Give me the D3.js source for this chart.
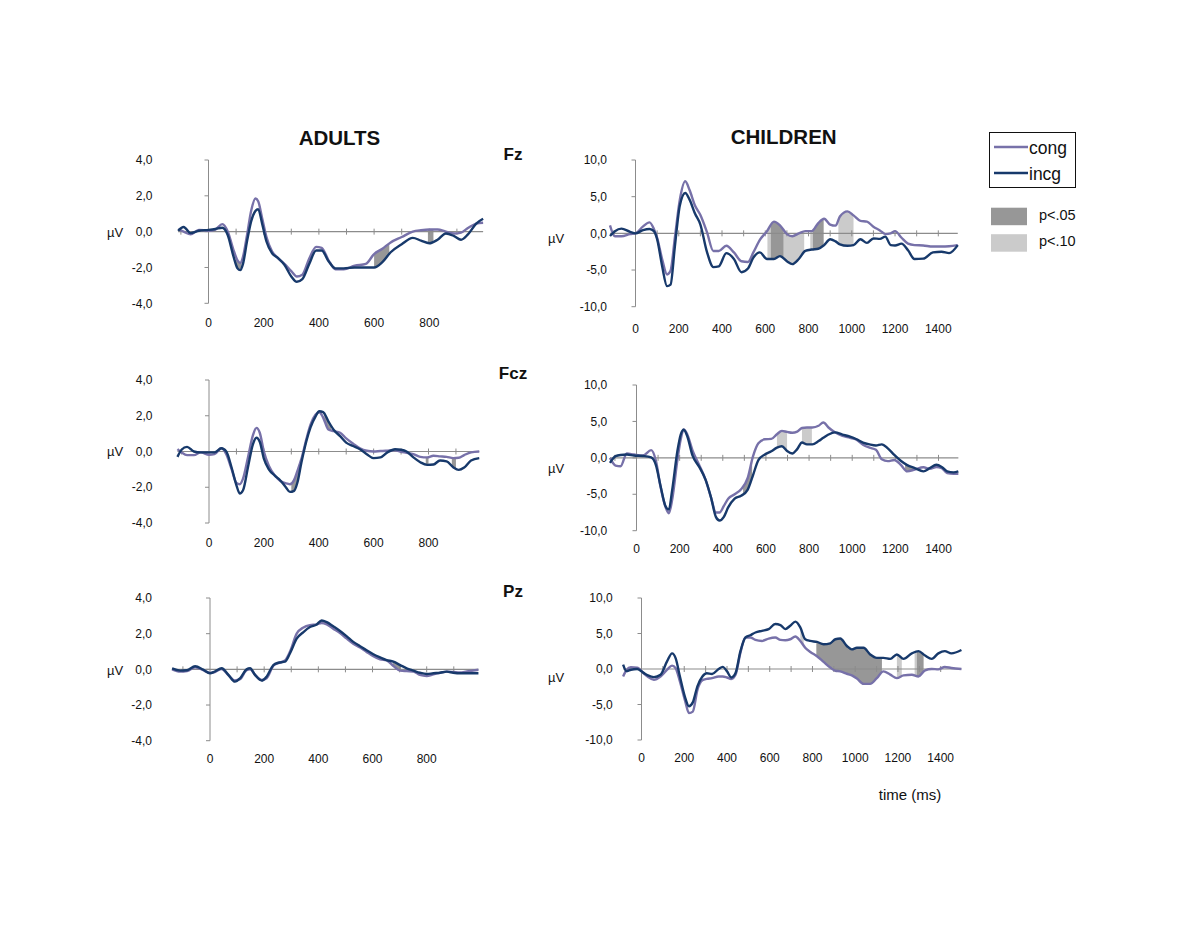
<!DOCTYPE html>
<html><head><meta charset="utf-8">
<script src="https://cdn.jsdelivr.net/npm/d3@7"></script>
<style>body{margin:0;background:#fff}svg{display:block}text{font-family:"Liberation Sans",Arial,sans-serif;fill:#111}</style>
</head><body><svg id="c" width="1200" height="927"></svg>
<script>
// ---------- DATA ----------
const seriesNames = ["cong", "incg"];
const sigNames = ["p<.05", "p<.10"];
const adultYTicks = [4, 2, 0, -2, -4];
const childYTicks = [10, 5, 0, -5, -10];
const adultXLabels = [0, 200, 400, 600, 800];
const childXLabels = [0, 200, 400, 600, 800, 1000, 1200, 1400];

// Adults Fz
const adFzT = [-110,-90,-65,-35,0,25,50,70,90,105,115,125,140,155,170,180,195,210,230,250,275,300,320,340,365,390,410,435,460,490,530,570,600,630,660,700,740,770,800,830,860,890,915,940,970,995];
const adFzIncg = [0.05,0.26,-0.08,0.05,0.1,0.15,0.22,-0.2,-1.35,-2.05,-2.15,-1.8,-0.5,0.6,1.15,1.25,0.4,-0.55,-1.2,-1.45,-1.85,-2.5,-2.8,-2.65,-1.8,-1.05,-1.05,-1.65,-2.05,-2.05,-2.0,-2.0,-2.0,-1.7,-1.15,-0.7,-0.35,-0.5,-0.65,-0.45,-0.1,-0.25,-0.45,-0.15,0.45,0.72];
const adFzCong = [0.13,0.0,-0.15,0.1,0.05,0.12,0.42,0.0,-1.0,-1.6,-1.75,-1.4,-0.15,1.2,1.85,1.7,0.7,-0.3,-1.1,-1.45,-1.8,-2.2,-2.5,-2.4,-1.5,-0.85,-0.9,-1.6,-2.1,-2.1,-1.9,-1.8,-1.25,-0.95,-0.6,-0.3,0.0,0.08,0.12,0.12,0.0,-0.1,-0.05,0.2,0.45,0.5];
const adFzSig05 = [[100,120],[600,655],[795,815]];
const adFzSig10 = [];

// Adults Fcz
const adFczT = [-115,-100,-80,-55,-30,0,20,45,63,82,100,112,124,142,160,173,185,200,218,240,260,280,295,310,322,337,355,370,388,402,416,435,455,478,500,525,550,575,600,625,650,678,700,720,745,770,795,818,842,866,890,910,930,955,985];
const adFczIncg = [-0.3,0.1,0.26,0.0,-0.05,-0.05,-0.05,0.18,0.0,-0.88,-1.89,-2.35,-2.17,-0.88,0.4,0.77,0.55,-0.4,-1.0,-1.35,-1.62,-2.0,-2.26,-2.2,-1.75,-0.6,0.59,1.35,1.95,2.25,2.2,1.69,1.2,0.86,0.5,0.31,0.13,-0.15,-0.37,-0.33,-0.05,0.13,0.1,0.0,-0.33,-0.6,-0.75,-0.73,-0.5,-0.55,-0.88,-1.03,-0.9,-0.5,-0.37];
const adFczCong = [0.13,-0.05,-0.2,-0.2,-0.05,-0.18,-0.15,0.18,-0.15,-0.97,-1.76,-1.83,-1.52,-0.33,0.9,1.32,1.05,0.0,-0.8,-1.35,-1.65,-1.78,-1.83,-1.6,-1.1,-0.4,0.7,1.5,2.05,2.2,1.9,1.23,1.14,1.05,0.73,0.44,0.18,0.04,0.0,0.03,0.05,0.07,-0.02,-0.07,-0.15,-0.3,-0.33,-0.24,-0.27,-0.3,-0.37,-0.35,-0.2,-0.05,0.0];
const adFczSig05 = [[300,345],[420,445],[790,800],[885,900]];
const adFczSig10 = [];

// Adults Pz
const adPzT = [-140,-110,-85,-55,-25,0,18,43,68,92,111,135,148,166,191,209,234,252,277,295,320,345,369,394,412,431,455,480,505,529,554,578,603,628,652,677,702,726,751,775,800,825,849,874,898,923,948,991];
const adPzIncg = [0.05,-0.07,-0.05,0.17,-0.02,-0.22,-0.12,0.06,-0.31,-0.69,-0.5,0.0,0.06,-0.31,-0.63,-0.41,0.24,0.37,0.43,0.89,1.72,2.09,2.37,2.52,2.74,2.65,2.41,2.15,1.85,1.54,1.3,1.07,0.85,0.67,0.52,0.43,0.24,0.06,-0.07,-0.19,-0.26,-0.22,-0.19,-0.13,-0.19,-0.22,-0.22,-0.22];
const adPzCong = [0.0,-0.13,-0.1,0.12,-0.05,-0.2,-0.15,0.02,-0.33,-0.62,-0.55,-0.05,0.0,-0.3,-0.6,-0.5,0.2,0.35,0.5,0.98,2.0,2.35,2.48,2.52,2.6,2.52,2.28,2.04,1.72,1.44,1.22,0.98,0.74,0.56,0.5,0.19,-0.07,-0.1,-0.12,-0.31,-0.37,-0.28,-0.2,-0.13,-0.15,-0.18,-0.12,-0.02];
const adPzSig05 = [[410,440],[675,705]];
const adPzSig10 = [];

// Children Fz
const chFzT = [-118,-95,-65,-25,0,35,65,85,100,123,146,162,182,205,230,250,275,300,330,360,385,420,455,490,520,545,575,608,640,668,700,725,755,785,815,845,872,900,925,945,980,1008,1040,1070,1100,1130,1155,1180,1200,1230,1260,1290,1330,1375,1415,1450,1490];
const chFzIncg = [-0.36,0.3,0.64,0.2,0,0.45,0.6,0.3,-0.8,-4.45,-7.2,-7.0,-1.8,3.8,5.5,4.6,2.7,1.2,-2.5,-4.6,-4.5,-2.7,-3.5,-5.3,-4.8,-3.3,-2.6,-3.5,-3.5,-3.1,-3.8,-4.2,-3.5,-2.4,-2.2,-2.1,-1.6,-0.8,-1.1,-1.5,-1.7,-1.6,-0.8,-1.3,-0.7,-0.75,-0.45,-1.6,-1.65,-1.4,-2.3,-3.5,-3.45,-2.6,-2.5,-2.7,-1.6];
const chFzCong = [1.1,-0.4,-0.4,-0.1,0,0.95,1.5,0.6,-0.6,-3.5,-5.6,-5.1,-0.6,4.6,7.1,5.9,3.8,2.5,0.2,-2.4,-2.4,-1.7,-2.6,-3.8,-3.9,-2.6,-0.9,0.3,1.6,1.1,-0.1,-0.4,0.0,0.3,0.3,1.4,2.0,1.2,1.05,2.3,3.0,2.45,1.7,1.6,0.9,0.4,-0.1,0.0,0.3,-0.6,-1.4,-1.6,-1.65,-1.8,-1.8,-1.75,-1.6];
const chFzSig05 = [[625,685],[820,870]];
const chFzSig10 = [[610,625],[685,780],[808,820],[938,1008]];

// Children Fcz
const chFczT = [-123,-97,-74,-45,-12,30,68,90,111,134,150,165,190,205,219,235,260,290,320,345,368,385,405,425,455,485,515,540,565,595,625,651,674,698,722,745,767,790,815,844,866,890,920,955,990,1020,1050,1080,1110,1137,1165,1195,1225,1255,1290,1330,1360,1390,1415,1440,1470,1492];
const chFczIncg = [-0.7,0.23,0.4,0.45,0.32,0.25,0.05,-1.0,-3.8,-6.6,-7.1,-4.5,1.0,3.2,3.85,3.0,0.3,-1.2,-3.0,-5.4,-8.1,-8.6,-8.1,-6.8,-5.6,-5.2,-4.4,-2.4,-0.3,0.45,0.9,1.4,1.6,0.93,0.6,1.2,2.1,1.85,1.85,2.3,2.75,3.2,3.5,3.2,2.9,2.55,2.1,1.85,1.7,1.85,1.3,0.4,-0.4,-1.0,-1.4,-1.85,-1.4,-0.95,-1.25,-1.85,-2.0,-1.85];
const chFczCong = [0.0,-1.06,-1.16,0.6,0.46,0.32,1.06,-0.4,-3.9,-6.7,-7.6,-5.8,-0.2,2.55,3.9,3.24,1.0,-0.95,-3.0,-5.4,-7.5,-7.5,-6.6,-5.6,-5.0,-4.3,-2.8,0.2,2.0,2.55,2.6,3.24,3.7,3.56,3.45,3.6,4.1,4.17,4.17,4.4,4.86,4.17,3.5,3.0,2.75,2.5,1.8,1.4,1.1,-0.2,-0.45,-0.3,-0.95,-1.85,-1.6,-1.3,-1.5,-1.25,-1.4,-2.1,-2.2,-2.2];
const chFczSig05 = [[494,536],[1245,1292]];
const chFczSig10 = [[651,698],[767,813]];

// Children Pz
const chPzT = [-86,-70,-50,-20,10,30,58,89,120,143,160,180,205,222,240,262,285,305,330,361,380,400,420,440,463,486,509,533,564,595,626,650,673,696,720,743,766,790,821,852,883,907,930,961,984,1008,1039,1070,1101,1132,1164,1195,1226,1265,1296,1327,1358,1389,1419,1450,1497];
const chPzIncg = [0.62,-0.3,-0.1,0.0,-0.55,-0.9,-1.14,-0.81,1.1,2.2,1.5,-1.1,-4.1,-5.24,-4.7,-2.4,-1.05,-0.6,-0.71,0.0,0.3,-0.33,-1.2,-0.57,2.52,4.43,4.76,5.14,5.38,5.62,6.33,6.19,5.62,6.1,6.67,5.86,4.19,3.95,3.81,3.48,3.62,4.19,4.29,3.24,2.76,3.0,3.0,2.05,1.57,1.57,1.43,2.05,1.43,2.2,2.52,1.9,1.43,2.2,2.52,2.2,2.67];
const chPzCong = [-1.05,-0.15,0.25,0.2,-0.6,-1.1,-1.52,-1.05,-0.1,0.48,0.1,-1.8,-4.6,-6.2,-6.0,-2.9,-1.6,-1.4,-1.29,-1.05,-1.05,-1.2,-1.4,-0.81,2.29,4.43,4.43,4.1,3.95,4.29,4.43,4.1,4.05,4.19,4.57,3.95,3.0,2.4,1.8,1.0,0.2,-0.25,-0.33,-0.67,-0.9,-1.35,-2.1,-2.1,-1.3,-0.33,-0.8,-1.29,-0.9,-0.8,-1.05,-0.19,0.0,-0.05,0.29,0.14,0.0];
const chPzSig05 = [[818,1125],[1288,1320]];
const chPzSig10 = [[743,759],[1195,1218],[1278,1288]];

// ---------- LAYOUT ----------
const colors = {cong: "#7771a9", incg: "#17396b", sig05: "#979797", sig10: "#cbcbcb", axis: "#8c8c8c"};
const panels = [
  {t: adFzT, cong: adFzCong, incg: adFzIncg, s05: adFzSig05, s10: adFzSig10, xr:[208.5,429.3], xd:800, yr:[303.3,160], yd:4, yt:adultYTicks, xl:adultXLabels, minor:100, lblR:152.5, lblB:326.7, uv:[107,232]},
  {t: adFczT, cong: adFczCong, incg: adFczIncg, s05: adFczSig05, s10: adFczSig10, xr:[209,428.5], xd:800, yr:[523,380], yd:4, yt:adultYTicks, xl:adultXLabels, minor:100, lblR:152.5, lblB:546.7, uv:[107,451]},
  {t: adPzT, cong: adPzCong, incg: adPzIncg, s05: adPzSig05, s10: adPzSig10, xr:[210,426.7], xd:800, yr:[740.7,598], yd:4, yt:adultYTicks, xl:adultXLabels, minor:100, lblR:152, lblB:762.7, uv:[107,670]},
  {t: chFzT, cong: chFzCong, incg: chFzIncg, s05: chFzSig05, s10: chFzSig10, xr:[635.5,938.3], xd:1400, yr:[306.7,160], yd:10, yt:childYTicks, xl:childXLabels, minor:100, lblR:607, lblB:333.3, uv:[548,238]},
  {t: chFczT, cong: chFczCong, incg: chFczIncg, s05: chFczSig05, s10: chFczSig10, xr:[636.5,938.5], xd:1400, yr:[530.7,385], yd:10, yt:childYTicks, xl:childXLabels, minor:100, lblR:607.3, lblB:553.3, uv:[548,468]},
  {t: chPzT, cong: chPzCong, incg: chPzIncg, s05: chPzSig05, s10: chPzSig10, xr:[641.5,940.7], xd:1400, yr:[740,598], yd:10, yt:childYTicks, xl:childXLabels, minor:100, lblR:612.7, lblB:761.7, uv:[548,677]}
];

const loc = d3.formatLocale({decimal: ",", thousands: ".", grouping: [3], currency: ["", ""], minus: "-"});
const fmt = loc.format(".1f");

const svg = d3.select("#c");
svg.append("rect").attr("width", 1200).attr("height", 927).attr("fill", "#ffffff");

panels.forEach((p, i) => {
  const g = svg.append("g");
  const x = d3.scaleLinear().domain([0, p.xd]).range(p.xr);
  const y = d3.scaleLinear().domain([-p.yd, p.yd]).range(p.yr);
  const data = p.t.map((t, k) => ({t, c: p.cong[k], n: p.incg[k]}));
  const tMin = p.t[0], tMax = p.t[p.t.length - 1];

  // significance shading
  const area = d3.area().x(d => x(d.t)).y0(d => y(d.c)).y1(d => y(d.n)).curve(d3.curveMonotoneX);
  [[p.s10, colors.sig10], [p.s05, colors.sig05]].forEach(([ivs, col], j) => {
    ivs.forEach((iv, k) => {
      const id = `clip${i}_${j}_${k}`;
      g.append("clipPath").attr("id", id).append("rect")
        .attr("x", x(iv[0])).attr("width", x(iv[1]) - x(iv[0]))
        .attr("y", p.yr[1] - 20).attr("height", p.yr[0] - p.yr[1] + 40);
      g.append("path").datum(data).attr("d", area).attr("fill", col).attr("clip-path", `url(#${id})`);
    });
  });

  // y axis
  g.append("line").attr("x1", x(0)).attr("x2", x(0)).attr("y1", y(p.yd)).attr("y2", y(-p.yd))
    .attr("stroke", colors.axis).attr("stroke-width", 1);
  p.yt.forEach(v => {
    g.append("line").attr("x1", x(0) - 4).attr("x2", x(0)).attr("y1", y(v)).attr("y2", y(v))
      .attr("stroke", colors.axis);
    g.append("text").attr("x", p.lblR).attr("y", y(v)).attr("dy", "0.35em")
      .attr("text-anchor", "end").attr("font-size", 12).text(fmt(v));
  });
  // zero line with ticks
  g.append("line").attr("x1", x(tMin)).attr("x2", x(tMax)).attr("y1", y(0)).attr("y2", y(0))
    .attr("stroke", colors.axis).attr("stroke-width", 1.2);
  d3.range(-100, tMax + 1, p.minor).filter(v => v >= tMin && v !== 0).forEach(v => {
    g.append("line").attr("x1", x(v)).attr("x2", x(v)).attr("y1", y(0) - 3).attr("y2", y(0) + 3)
      .attr("stroke", colors.axis);
  });
  p.xl.forEach(v => {
    g.append("text").attr("x", x(v)).attr("y", p.lblB).attr("text-anchor", "middle")
      .attr("font-size", 12).text(v);
  });
  g.append("text").attr("x", p.uv[0]).attr("y", p.uv[1]).attr("dy", "0.35em")
    .attr("font-size", 13).text("µV");

  // lines
  const line = key => d3.line().x(d => x(d.t)).y(d => y(d[key])).curve(d3.curveMonotoneX);
  g.append("path").datum(data).attr("d", line("c")).attr("fill", "none")
    .attr("stroke", colors.cong).attr("stroke-width", 2.4).attr("stroke-linejoin", "round");
  g.append("path").datum(data).attr("d", line("n")).attr("fill", "none")
    .attr("stroke", colors.incg).attr("stroke-width", 2.4).attr("stroke-linejoin", "round");
});

// titles
svg.append("text").attr("x", 339.5).attr("y", 145).attr("text-anchor", "middle")
  .attr("font-size", 20.5).attr("font-weight", "bold").text("ADULTS");
svg.append("text").attr("x", 783.7).attr("y", 144).attr("text-anchor", "middle")
  .attr("font-size", 20.5).attr("font-weight", "bold").text("CHILDREN");
[["Fz", 513, 159.5], ["Fcz", 513, 379], ["Pz", 513, 597]].forEach(([s, xx, yy]) => {
  svg.append("text").attr("x", xx).attr("y", yy).attr("text-anchor", "middle")
    .attr("font-size", 17).attr("font-weight", "bold").text(s);
});
svg.append("text").attr("x", 910).attr("y", 800).attr("text-anchor", "middle")
  .attr("font-size", 15).text("time (ms)");

// legend
const lg = svg.append("g");
lg.append("rect").attr("x", 989.5).attr("y", 132.5).attr("width", 86).attr("height", 55)
  .attr("fill", "#fff").attr("stroke", "#111").attr("stroke-width", 1);
seriesNames.forEach((s, k) => {
  const yy = 147 + k * 26;
  lg.append("line").attr("x1", 994).attr("x2", 1028).attr("y1", yy).attr("y2", yy)
    .attr("stroke", colors[s]).attr("stroke-width", 2.6);
  lg.append("text").attr("x", 1029).attr("y", yy + 7).attr("font-size", 17.5).text(s);
});
sigNames.forEach((s, k) => {
  const yy = 207.7 + k * 26.5;
  lg.append("rect").attr("x", 991).attr("y", yy).attr("width", 36).attr("height", 17.5)
    .attr("fill", k === 0 ? colors.sig05 : colors.sig10);
  lg.append("text").attr("x", 1039).attr("y", yy + 11.8).attr("font-size", 14.5).text(s);
});
</script></body></html>
